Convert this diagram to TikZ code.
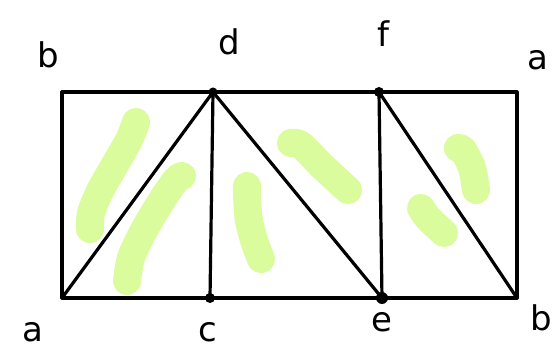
\documentclass[tikz,border=0pt]{standalone}
\usepackage{fontspec}
\setmainfont{DejaVu Sans}
\definecolor{hl}{RGB}{219,252,156}
\tikzset{
  edge/.style={line width=3.2pt, line cap=round, line join=round},
  hlstroke/.style={hl, line width=28pt, line cap=round, line join=round},
  vdot/.style={circle, fill=black, inner sep=0pt, minimum size=10pt},
  lbl/.style={font=\fontsize{34}{34}\selectfont, inner sep=0pt}
}
\begin{document}
\begin{tikzpicture}[x=1pt,y=-1pt]
\useasboundingbox (0,0) rectangle (558,353);
% highlight strokes
\draw[hlstroke] plot[smooth] coordinates {(136,122) (129,140) (113,168) (100,191) (91,213) (90,229)};
\draw[hlstroke] plot[smooth] coordinates {(182,176) (176,180) (162,200) (143,232) (131,258) (127,281)};
\draw[hlstroke] plot[smooth] coordinates {(247,186) (247,196) (249,221) (255,243) (261,259)};
\draw[hlstroke] plot[smooth] coordinates {(291,143) (301,145) (323,167) (348,190)};
\draw[hlstroke] plot[smooth] coordinates {(458,148) (463,150) (472,168) (476,190)};
\draw[hlstroke] plot[smooth] coordinates {(421,208) (428,218) (444,233)};
% vertices
\coordinate (A) at (62,298);
\coordinate (B) at (62,92);
\coordinate (D) at (213,92);
\coordinate (C) at (210,298);
\coordinate (F) at (379,92);
\coordinate (E) at (382,298);
\coordinate (Aa) at (517,92);
\coordinate (Bb) at (517,298);
% edges
\draw[edge] (A) -- (B) -- (Aa) -- (Bb) -- cycle;
\draw[edge] (A) -- (D) -- (C);
\draw[edge] (D) -- (E) -- (F) -- (Bb);
% dots
\node[vdot, minimum size=9pt] (dd) at (D) {};
\node[vdot] (dc) at (C) {};
\node[vdot] (df) at (F) {};
\node[vdot, minimum size=12pt] (de) at (E) {};
% labels
\node[lbl] (lb) at (48,55) {b};
\node[lbl] (ld) at (229,42) {d};
\node[lbl] (lf) at (383,34) {f};
\node[lbl] (la) at (538,60) {a};
\node[lbl] (la2) at (33,332) {a};
\node[lbl] (lc) at (208,332) {c};
\node[lbl] (le) at (382,322) {e};
\node[lbl] (lb2) at (541,318) {b};
\end{tikzpicture}
\end{document}
